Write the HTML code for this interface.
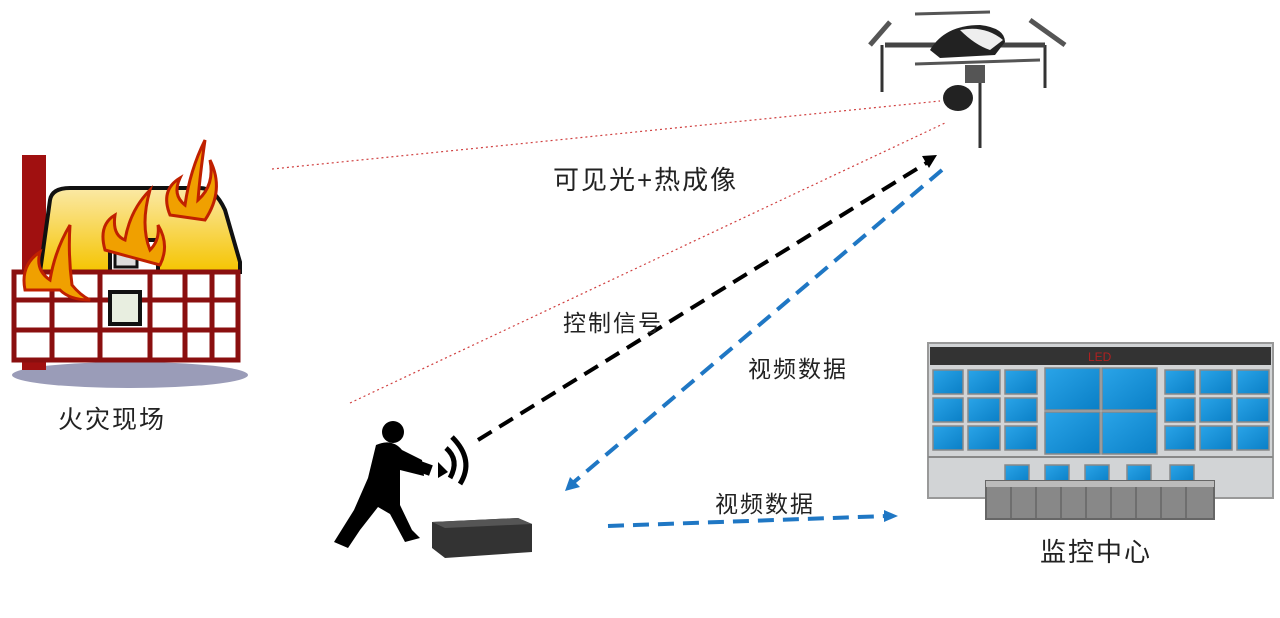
<!DOCTYPE html>
<html><head><meta charset="utf-8"><style>
html,body{margin:0;padding:0;background:#fff;}
svg{display:block}
text{font-family:"Liberation Sans","Noto Sans CJK SC",sans-serif;fill:#222}
</style></head><body>
<svg width="1280" height="618" viewBox="0 0 1280 618" xmlns="http://www.w3.org/2000/svg">
<defs>
<linearGradient id="roof" x1="0" y1="0" x2="0" y2="1"><stop offset="0" stop-color="#fbe9a6"/><stop offset="1" stop-color="#f5c400"/></linearGradient>
<linearGradient id="win" x1="0" y1="0" x2="1" y2="1"><stop offset="0" stop-color="#2aa4e8"/><stop offset="1" stop-color="#0a7fc6"/></linearGradient>
</defs>

<!-- House -->
<ellipse cx="130" cy="375" rx="118" ry="13" fill="#9a9cb8"/>
<rect x="22" y="155" width="24" height="215" fill="#a01010"/>
<path d="M50,200 Q52,188 70,188 L200,188 Q215,188 225,210 L240,262 L240,272 L158,272 L158,240 L110,240 L110,272 L40,272 Z" fill="url(#roof)" stroke="#111" stroke-width="4"/>
<rect x="14" y="272" width="224" height="88" fill="#fff" stroke="#8a0f0f" stroke-width="5"/>
<g stroke="#8a0f0f" stroke-width="5">
<line x1="14" y1="300" x2="238" y2="300"/><line x1="14" y1="330" x2="238" y2="330"/>
<line x1="52" y1="272" x2="52" y2="360"/><line x1="100" y1="272" x2="100" y2="360"/>
<line x1="150" y1="272" x2="150" y2="360"/><line x1="185" y1="272" x2="185" y2="360"/><line x1="212" y1="272" x2="212" y2="360"/>
</g>
<rect x="110" y="292" width="30" height="32" fill="#e8eee0" stroke="#111" stroke-width="4"/>
<rect x="115" y="245" width="22" height="22" fill="#ddd" stroke="#111" stroke-width="3"/>
<g fill="#f0a000" stroke="#c02000" stroke-width="3">
<path d="M170,215 Q160,190 180,178 Q172,195 185,205 Q190,170 205,140 Q200,175 198,200 Q215,185 210,160 Q225,190 205,220 Z"/>
<path d="M25,290 Q20,265 40,252 Q35,270 50,280 Q55,250 70,225 Q68,255 72,285 Q80,295 90,300 Q70,300 60,290 Z"/>
<path d="M105,250 Q98,225 115,215 Q112,235 125,240 Q130,210 150,190 Q140,225 150,250 Q160,240 158,225 Q170,245 160,265 Z"/>
</g>
<text x="58" y="428" font-size="25" letter-spacing="2">火灾现场</text>

<!-- Drone -->
<g>
<line x1="882" y1="45" x2="882" y2="92" stroke="#333" stroke-width="3"/>
<line x1="1045" y1="45" x2="1045" y2="88" stroke="#333" stroke-width="3"/>
<line x1="980" y1="70" x2="980" y2="148" stroke="#333" stroke-width="3"/>
<line x1="885" y1="45" x2="1045" y2="45" stroke="#444" stroke-width="5"/>
<line x1="915" y1="14" x2="990" y2="12" stroke="#555" stroke-width="3"/>
<line x1="915" y1="64" x2="1040" y2="60" stroke="#555" stroke-width="3"/>
<path d="M870,45 L890,22" stroke="#555" stroke-width="5"/>
<path d="M1030,20 L1065,45" stroke="#555" stroke-width="5"/>
<path d="M930,50 Q945,25 980,25 Q1005,28 1005,42 L995,55 L940,58 Z" fill="#222"/>
<path d="M960,30 Q985,25 1003,40 L990,50 Q975,45 960,30 Z" fill="#eee"/>
<rect x="965" y="65" width="20" height="18" fill="#555"/>
<ellipse cx="958" cy="98" rx="15" ry="13" fill="#222"/>
</g>

<!-- Red dotted lines -->
<line x1="272" y1="169" x2="940" y2="101" stroke="#d04040" stroke-width="1.2" stroke-dasharray="2,3"/>
<line x1="350" y1="403" x2="945" y2="123" stroke="#d04040" stroke-width="1.2" stroke-dasharray="2,3"/>

<!-- Arrows -->
<line x1="478" y1="440" x2="928" y2="162" stroke="#000" stroke-width="4" stroke-dasharray="16,9"/>
<path d="M937,155 L922,156 L929,168 Z" fill="#000"/>
<line x1="942" y1="170" x2="574" y2="482" stroke="#1f77c4" stroke-width="4" stroke-dasharray="16,9"/>
<path d="M565,491 L570,477 L580,487 Z" fill="#1f77c4"/>
<line x1="608" y1="526" x2="887" y2="516" stroke="#1f77c4" stroke-width="4" stroke-dasharray="16,9"/>
<path d="M898,516 L884,510 L884,522 Z" fill="#1f77c4"/>

<text x="553" y="189" font-size="26" letter-spacing="2">可见光+热成像</text>
<text x="563" y="331" font-size="23" letter-spacing="2">控制信号</text>
<text x="748" y="377" font-size="23" letter-spacing="2">视频数据</text>
<text x="715" y="512" font-size="23" letter-spacing="2">视频数据</text>

<!-- Person -->
<g fill="#000">
<circle cx="393" cy="432" r="11"/>
<path d="M376,445 Q392,438 402,450 L422,460 L424,476 L400,470 L400,505 L412,530 L420,538 L405,542 L390,514 L378,507 L360,530 L348,548 L334,542 L354,510 L368,478 Z"/>
<rect x="405" y="460" width="27" height="11" transform="rotate(20 417 465)"/>
</g>
<path d="M438,462 L448,472 L438,478 Z" fill="#000"/>
<path d="M446,448 Q460,460 450,478" stroke="#000" stroke-width="5" fill="none"/>
<path d="M452,437 Q475,460 460,484" stroke="#000" stroke-width="5" fill="none"/>
<!-- Box -->
<path d="M432,522 L518,518 L532,524 L532,552 L445,558 L432,548 Z" fill="#333"/>
<path d="M432,522 L518,518 L532,524 L445,528 Z" fill="#555"/>

<!-- Building -->
<rect x="928" y="343" width="345" height="155" fill="#d2d4d6" stroke="#999" stroke-width="2"/>
<rect x="930" y="347" width="341" height="18" fill="#333"/>
<text x="1088" y="361" font-size="12" style="fill:#b02020">LED</text>
<g fill="url(#win)" stroke="#888" stroke-width="1.5">
<rect x="933" y="370" width="30" height="24"/><rect x="968" y="370" width="32" height="24"/><rect x="1005" y="370" width="32" height="24"/>
<rect x="933" y="398" width="30" height="24"/><rect x="968" y="398" width="32" height="24"/><rect x="1005" y="398" width="32" height="24"/>
<rect x="933" y="426" width="30" height="24"/><rect x="968" y="426" width="32" height="24"/><rect x="1005" y="426" width="32" height="24"/>
<rect x="1045" y="368" width="55" height="42"/><rect x="1102" y="368" width="55" height="42"/>
<rect x="1045" y="412" width="55" height="42"/><rect x="1102" y="412" width="55" height="42"/>
<rect x="1165" y="370" width="30" height="24"/><rect x="1200" y="370" width="32" height="24"/><rect x="1237" y="370" width="32" height="24"/>
<rect x="1165" y="398" width="30" height="24"/><rect x="1200" y="398" width="32" height="24"/><rect x="1237" y="398" width="32" height="24"/>
<rect x="1165" y="426" width="30" height="24"/><rect x="1200" y="426" width="32" height="24"/><rect x="1237" y="426" width="32" height="24"/>
<rect x="1005" y="465" width="24" height="18"/><rect x="1045" y="465" width="24" height="18"/><rect x="1085" y="465" width="24" height="18"/><rect x="1127" y="465" width="24" height="18"/><rect x="1170" y="465" width="24" height="18"/>
</g>
<line x1="928" y1="457" x2="1273" y2="457" stroke="#888" stroke-width="2"/>
<rect x="986" y="481" width="228" height="38" fill="#888" stroke="#666" stroke-width="2"/>
<rect x="986" y="481" width="228" height="6" fill="#bbb"/>
<g stroke="#666" stroke-width="1.5"><line x1="1011" y1="487" x2="1011" y2="519"/><line x1="1036" y1="487" x2="1036" y2="519"/><line x1="1061" y1="487" x2="1061" y2="519"/><line x1="1086" y1="487" x2="1086" y2="519"/><line x1="1111" y1="487" x2="1111" y2="519"/><line x1="1136" y1="487" x2="1136" y2="519"/><line x1="1161" y1="487" x2="1161" y2="519"/><line x1="1186" y1="487" x2="1186" y2="519"/></g>
<text x="1040" y="561" font-size="26" letter-spacing="2">监控中心</text>
</svg>
</body></html>
